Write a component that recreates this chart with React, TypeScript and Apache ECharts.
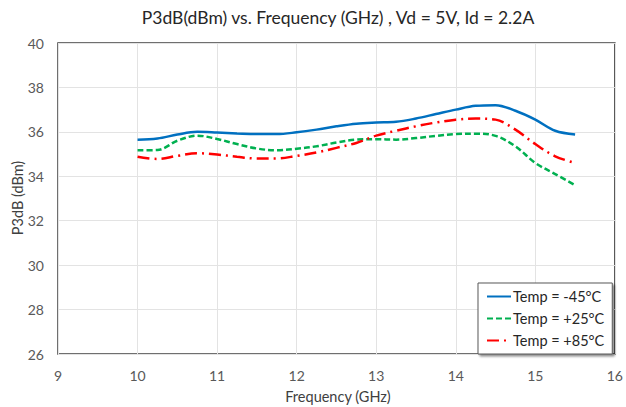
import React, { useEffect, useRef } from "react";
import * as echarts from "echarts";

const freqs = [10, 10.25, 10.5, 10.75, 11, 11.25, 11.5, 11.75, 12, 12.25, 12.5, 12.75, 13, 13.25, 13.5, 13.75, 14, 14.25, 14.5, 14.75, 15, 15.25, 15.5];
const tempM45 = [35.65, 35.7, 35.88, 36.0, 35.97, 35.93, 35.9, 35.9, 35.98, 36.1, 36.25, 36.37, 36.42, 36.45, 36.6, 36.8, 37.0, 37.17, 37.2, 36.95, 36.55, 36.05, 35.88];
const tempP25 = [35.17, 35.18, 35.6, 35.83, 35.68, 35.45, 35.25, 35.17, 35.24, 35.35, 35.52, 35.65, 35.67, 35.65, 35.72, 35.82, 35.9, 35.92, 35.82, 35.35, 34.6, 34.1, 33.6];
const tempP85 = [34.88, 34.78, 34.92, 35.04, 34.98, 34.88, 34.8, 34.8, 34.92, 35.07, 35.28, 35.5, 35.83, 36.05, 36.25, 36.42, 36.55, 36.6, 36.55, 36.1, 35.45, 34.9, 34.6];
const seriesNames = ["Temp = -45°C", "Temp = +25°C", "Temp = +85°C"];
const titleText = "P3dB(dBm) vs. Frequency (GHz) , Vd = 5V, Id = 2.2A";
const xTitle = "Frequency (GHz)";
const yTitle = "P3dB (dBm)";

const FONT = "Lato, 'Open Sans', sans-serif";

export default function App() {
  const ref = useRef<HTMLDivElement>(null);
  useEffect(() => {
    if (!ref.current) return;
    const chart = echarts.init(ref.current, undefined, { renderer: "svg" });
    const mk = (vals: number[]) => freqs.map((f, i) => [f, vals[i]]);
    chart.setOption({
      animation: false,
      backgroundColor: "#ffffff",
      textStyle: { fontFamily: FONT },
      grid: {
        left: 58, top: 43, width: 561, height: 311,
        show: true, borderColor: "#404040", borderWidth: 1.5, backgroundColor: "transparent",
      },
      xAxis: {
        type: "value", min: 9, max: 16, interval: 1,
        axisLine: { show: false }, axisTick: { show: false },
        splitLine: { show: true, lineStyle: { color: "#e3e3e3", width: 1 } },
        axisLabel: { color: "#595959", fontSize: 14, margin: 14, fontFamily: FONT },
      },
      yAxis: {
        type: "value", min: 26, max: 40, interval: 2,
        axisLine: { show: false }, axisTick: { show: false },
        splitLine: { show: true, lineStyle: { color: "#e3e3e3", width: 1 } },
        axisLabel: { color: "#595959", fontSize: 14, margin: 14, fontFamily: FONT },
      },
      legend: {
        left: 478, top: 283, orient: "vertical",
        itemWidth: 24, itemHeight: 10, itemGap: 7,
        padding: [6, 8, 6, 8],
        backgroundColor: "#ffffff", borderColor: "#595959", borderWidth: 1,
        shadowColor: "rgba(0,0,0,0.45)", shadowBlur: 2, shadowOffsetX: 2, shadowOffsetY: 2,
        itemStyle: { opacity: 0 },
        textStyle: { color: "#262626", fontSize: 14.5, fontFamily: FONT, padding: [0, 0, 0, -3] },
        data: seriesNames,
      },
      graphic: [
        { type: "text", x: 338, y: 17, style: { text: titleText, fontSize: 17.5, fill: "#262626", fontFamily: FONT, align: "center", verticalAlign: "middle" } },
        { type: "text", x: 338, y: 396, style: { text: xTitle, fontSize: 14.5, fill: "#404040", fontFamily: FONT, align: "center", verticalAlign: "middle" } },
        { type: "text", x: 17, y: 198, rotation: Math.PI / 2, style: { text: yTitle, fontSize: 14.5, fill: "#404040", fontFamily: FONT, align: "center", verticalAlign: "middle" } },
      ],
      series: [
        { name: seriesNames[0], type: "line", smooth: 0.35, symbol: "none", data: mk(tempM45), lineStyle: { color: "#0070C0", width: 2.5, type: "solid" }, itemStyle: { color: "#0070C0" } },
        { name: seriesNames[1], type: "line", smooth: 0.35, symbol: "none", data: mk(tempP25), lineStyle: { color: "#00B050", width: 2.5, type: [6, 3] }, itemStyle: { color: "#00B050" } },
        { name: seriesNames[2], type: "line", smooth: 0.35, symbol: "none", data: mk(tempP85), lineStyle: { color: "#FF0000", width: 2.5, type: [12, 5, 2, 5] }, itemStyle: { color: "#FF0000" } },
      ],
    });
    return () => chart.dispose();
  }, []);
  return <div ref={ref} style={{ width: 626, height: 407, position: "absolute", left: 0, top: 0 }} />;
}
